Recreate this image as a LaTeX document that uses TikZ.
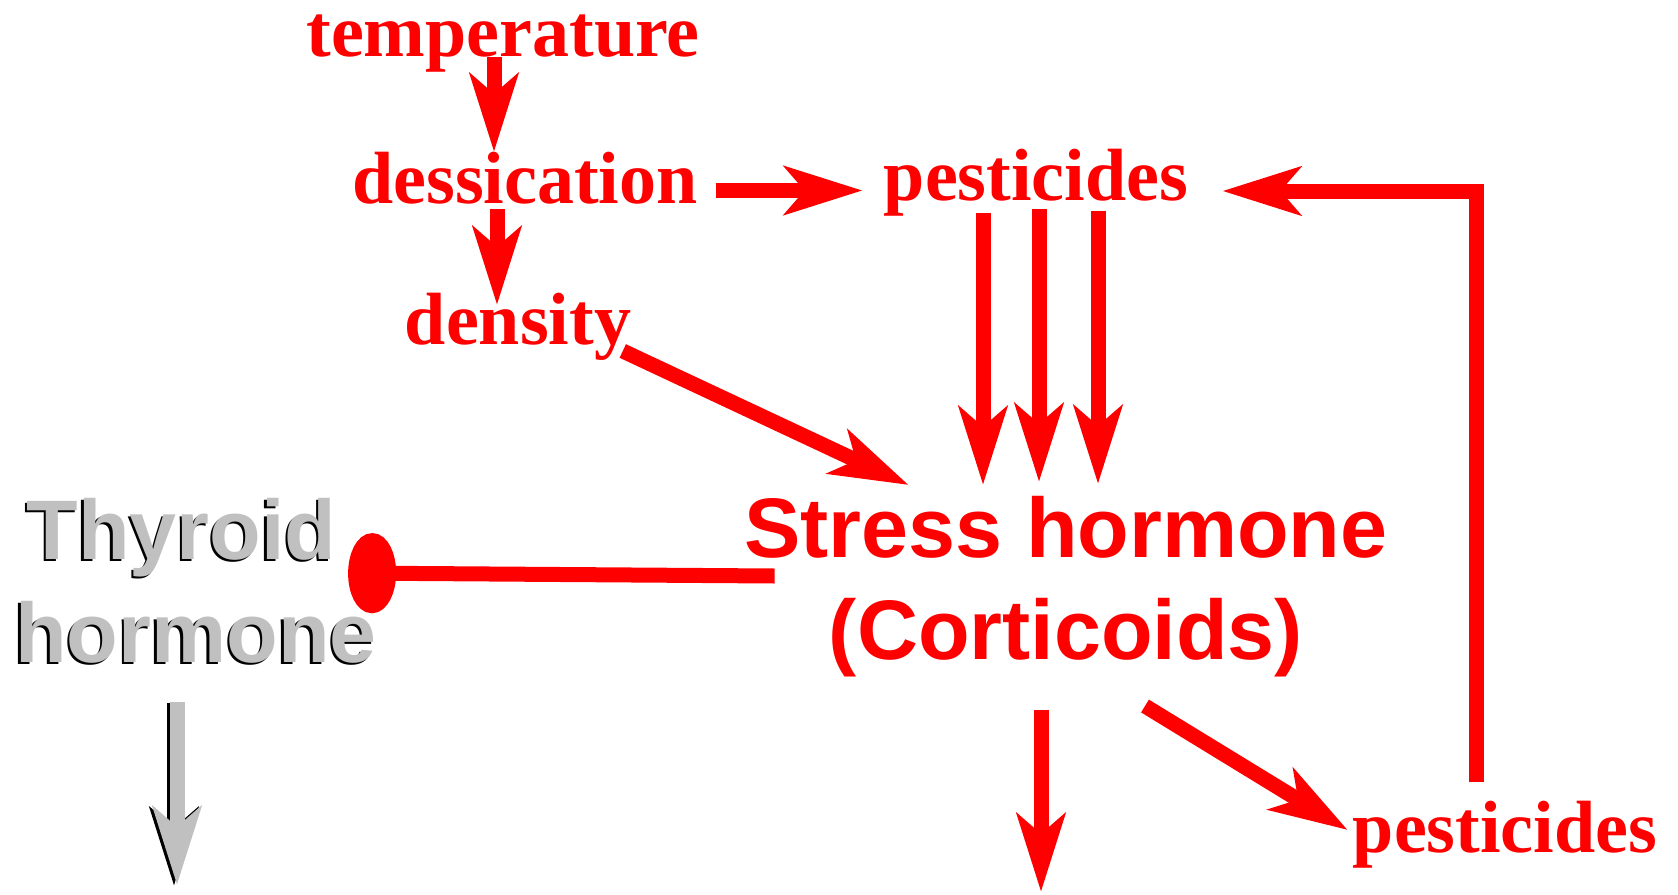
\documentclass[tikz,border=0pt]{standalone}
\usepackage{fontspec}
\setmainfont{Liberation Serif}
\setsansfont{Liberation Sans}
\usetikzlibrary{arrows.meta}
\definecolor{thygrey}{RGB}{192,192,192}
\newcommand{\shadowed}[1]{\makebox[0pt][l]{\hspace{-2.5pt}\raisebox{-2.5pt}{\color{black}#1}}#1}

\begin{document}
\begin{tikzpicture}[x=1pt, y=1pt,
  word/.style={red, inner sep=0, anchor=base, font=\rmfamily\bfseries\fontsize{74}{80}\selectfont},
  hormone/.style={inner sep=0, anchor=base, font=\sffamily\bfseries\fontsize{84.5}{90}\selectfont},
  arr/.style={red, line width=15pt, -{Stealth[length=78pt, width=48pt, inset=20pt]}}]
  \useasboundingbox (0, 0) rectangle (1678, -894);
  % what stresses the animal
  \node[word] (temp) at (503, -56) {temperature};
  \node[word] (dess) at (525, -203) {dessication};
  \node[word] (dens) at (518, -344) {density};
  \node[word] (pest) at (1036, -200) {pesticides};
  \node[word] (pestlow) at (1505, -852) {pesticides};
  % the two hormones
  \node[hormone, red] (stress) at (1066, -557) {Stress hormone};
  \node[hormone, red] (cort) at (1066, -659) {(Corticoids)};
  \node[hormone, thygrey] (thy) at (181.5, -559) {\shadowed{Thyroid}};
  \node[hormone, thygrey] (horm) at (196, -662) {\shadowed{hormone}};
  \coordinate (thyout) at (177, -885);
  \coordinate (cortout) at (1041, -892);

  \draw[arr] ([xshift=-9pt, yshift=-1pt]temp.base) -- ([xshift=-31pt, yshift=51pt]dess.base);
  \draw[arr] ([xshift=-28pt, yshift=-6pt]dess.base) -- ([xshift=-21pt, yshift=39pt]dens.base);
  \draw[arr] ([xshift=18pt, yshift=12.5pt]dess.base east) -- ([xshift=-21pt, yshift=9.5pt]pest.base west);
  \draw[arr] ([xshift=-8.5pt, yshift=-7pt]dens.base east) -- ([xshift=164.5pt, yshift=72pt]stress.base west);
  \draw[arr] ([xshift=-53pt, yshift=-13pt]pest.base) -- ([xshift=-83pt, yshift=72pt]stress.base);
  \draw[arr] ([xshift=3pt, yshift=-9pt]pest.base) -- ([xshift=-27pt, yshift=75pt]stress.base);
  \draw[arr] ([xshift=62pt, yshift=-11pt]pest.base) -- ([xshift=32pt, yshift=73pt]stress.base);
  \draw[red, line width=15pt, -{Ellipse[length=48pt, width=80pt]}]
    ([xshift=30.5pt, yshift=-19pt]stress.base west) -- ([xshift=11.5pt, yshift=-14pt]thy.base east);
  \draw[arr] ([xshift=-25pt, yshift=-51pt]cort.base) -- (cortout);
  \draw[arr] ([xshift=79pt, yshift=-47pt]cort.base) -- ([xshift=-5pt, yshift=22pt]pestlow.base west);
  \draw[arr] ([xshift=-29pt, yshift=70pt]pestlow.base) |- ([xshift=34pt, yshift=9pt]pest.base east);
  % thyroid output, grey with a dark edge
  \draw[arr, black] ([xshift=-22pt, yshift=-41pt]horm.base) -- ([xshift=-3pt, yshift=-1pt]thyout);
  \draw[arr, thygrey] ([xshift=-19pt, yshift=-40pt]horm.base) -- (thyout);
\end{tikzpicture}
\end{document}
